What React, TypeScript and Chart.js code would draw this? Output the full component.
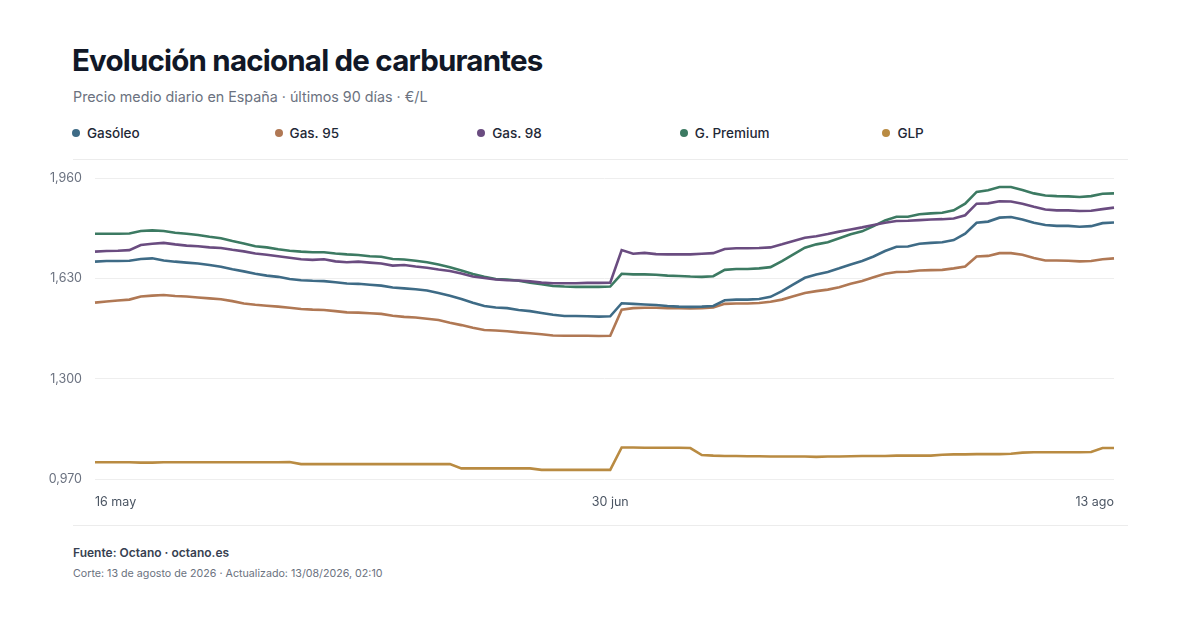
import React, { useEffect, useRef } from "react";
import { Chart, registerables } from "chart.js";

Chart.register(...registerables);

const TITLE = "Evolución nacional de carburantes";
const SUBTITLE = "Precio medio diario en España · últimos 90 días · €/L";
const SOURCE = "Fuente: Octano · octano.es";
const NOTE = "Corte: 13 de agosto de 2026 · Actualizado: 13/08/2026, 02:10";

const DATES = [
  "16 may", "17 may", "18 may", "19 may", "20 may", "21 may", "22 may", "23 may", "24 may", "25 may",
  "26 may", "27 may", "28 may", "29 may", "30 may", "31 may",
  "1 jun", "2 jun", "3 jun", "4 jun", "5 jun", "6 jun", "7 jun", "8 jun", "9 jun", "10 jun",
  "11 jun", "12 jun", "13 jun", "14 jun", "15 jun", "16 jun", "17 jun", "18 jun", "19 jun", "20 jun",
  "21 jun", "22 jun", "23 jun", "24 jun", "25 jun", "26 jun", "27 jun", "28 jun", "29 jun", "30 jun",
  "1 jul", "2 jul", "3 jul", "4 jul", "5 jul", "6 jul", "7 jul", "8 jul", "9 jul", "10 jul",
  "11 jul", "12 jul", "13 jul", "14 jul", "15 jul", "16 jul", "17 jul", "18 jul", "19 jul", "20 jul",
  "21 jul", "22 jul", "23 jul", "24 jul", "25 jul", "26 jul", "27 jul", "28 jul", "29 jul", "30 jul", "31 jul",
  "1 ago", "2 ago", "3 ago", "4 ago", "5 ago", "6 ago", "7 ago", "8 ago", "9 ago", "10 ago",
  "11 ago", "12 ago", "13 ago",
];

const X_TICKS = ["16 may", "30 jun", "13 ago"];
const Y_TICKS = [0.97, 1.3, 1.63, 1.96];

const GASOLEO = [
  1.686, 1.688, 1.688, 1.689, 1.695, 1.697, 1.690, 1.686, 1.683, 1.680,
  1.675, 1.669, 1.661, 1.654, 1.646, 1.640, 1.636, 1.629, 1.625, 1.623,
  1.622, 1.618, 1.614, 1.613, 1.610, 1.607, 1.601, 1.598, 1.595, 1.591,
  1.583, 1.574, 1.563, 1.551, 1.540, 1.535, 1.533, 1.527, 1.523, 1.517,
  1.511, 1.507, 1.507, 1.506, 1.505, 1.506, 1.549, 1.547, 1.545, 1.543,
  1.540, 1.538, 1.537, 1.538, 1.540, 1.559, 1.561, 1.561, 1.563, 1.570,
  1.589, 1.611, 1.633, 1.644, 1.652, 1.664, 1.677, 1.688, 1.703, 1.721,
  1.735, 1.736, 1.745, 1.748, 1.750, 1.757, 1.778, 1.814, 1.818, 1.831,
  1.833, 1.825, 1.814, 1.807, 1.804, 1.804, 1.801, 1.803, 1.813, 1.815,
];

const GAS95 = [
  1.551, 1.555, 1.558, 1.561, 1.571, 1.574, 1.576, 1.573, 1.571, 1.568,
  1.565, 1.562, 1.556, 1.548, 1.544, 1.541, 1.538, 1.534, 1.530, 1.528,
  1.527, 1.523, 1.519, 1.518, 1.516, 1.514, 1.508, 1.504, 1.502, 1.498,
  1.494, 1.485, 1.477, 1.468, 1.461, 1.459, 1.457, 1.453, 1.450, 1.447,
  1.443, 1.442, 1.442, 1.442, 1.441, 1.442, 1.528, 1.533, 1.534, 1.534,
  1.533, 1.533, 1.532, 1.533, 1.535, 1.547, 1.548, 1.548, 1.550, 1.554,
  1.561, 1.572, 1.583, 1.589, 1.594, 1.602, 1.613, 1.622, 1.635, 1.646,
  1.652, 1.653, 1.657, 1.658, 1.659, 1.664, 1.670, 1.703, 1.705, 1.714,
  1.714, 1.709, 1.698, 1.690, 1.690, 1.689, 1.687, 1.688, 1.694, 1.697,
];

const GAS98 = [
  1.719, 1.721, 1.722, 1.724, 1.741, 1.745, 1.748, 1.743, 1.739, 1.737,
  1.733, 1.731, 1.725, 1.720, 1.713, 1.709, 1.704, 1.699, 1.694, 1.692,
  1.694, 1.687, 1.684, 1.686, 1.683, 1.680, 1.673, 1.675, 1.670, 1.666,
  1.660, 1.655, 1.647, 1.637, 1.632, 1.627, 1.625, 1.624, 1.621, 1.617,
  1.615, 1.615, 1.615, 1.616, 1.616, 1.617, 1.724, 1.712, 1.715, 1.711,
  1.710, 1.710, 1.710, 1.712, 1.714, 1.728, 1.730, 1.730, 1.731, 1.733,
  1.743, 1.754, 1.765, 1.770, 1.777, 1.785, 1.792, 1.799, 1.807, 1.814,
  1.820, 1.821, 1.823, 1.825, 1.826, 1.828, 1.839, 1.877, 1.878, 1.885,
  1.884, 1.877, 1.867, 1.858, 1.855, 1.855, 1.853, 1.854, 1.859, 1.864,
];

const PREMIUM = [
  1.778, 1.778, 1.778, 1.779, 1.787, 1.789, 1.787, 1.781, 1.778, 1.774,
  1.768, 1.763, 1.754, 1.746, 1.737, 1.733, 1.727, 1.722, 1.719, 1.717,
  1.717, 1.713, 1.710, 1.708, 1.704, 1.702, 1.695, 1.693, 1.689, 1.684,
  1.677, 1.668, 1.657, 1.645, 1.636, 1.629, 1.627, 1.623, 1.617, 1.612,
  1.606, 1.604, 1.603, 1.603, 1.603, 1.604, 1.646, 1.644, 1.644, 1.643,
  1.640, 1.639, 1.637, 1.636, 1.638, 1.659, 1.662, 1.662, 1.664, 1.668,
  1.688, 1.710, 1.732, 1.743, 1.750, 1.763, 1.776, 1.786, 1.803, 1.822,
  1.834, 1.834, 1.842, 1.845, 1.847, 1.855, 1.877, 1.916, 1.921, 1.932,
  1.932, 1.922, 1.911, 1.904, 1.902, 1.901, 1.899, 1.902, 1.910, 1.911,
];

const GLP = [
  1.025, 1.025, 1.025, 1.025, 1.024, 1.024, 1.025, 1.025, 1.025, 1.025,
  1.025, 1.025, 1.025, 1.025, 1.025, 1.025, 1.025, 1.026, 1.019, 1.019,
  1.019, 1.019, 1.019, 1.019, 1.019, 1.019, 1.019, 1.019, 1.019, 1.019,
  1.019, 1.019, 1.005, 1.005, 1.005, 1.005, 1.005, 1.005, 1.005, 1.000,
  1.000, 1.000, 1.000, 1.000, 1.000, 1.000, 1.074, 1.074, 1.073, 1.073,
  1.073, 1.073, 1.072, 1.049, 1.047, 1.046, 1.046, 1.045, 1.045, 1.044,
  1.044, 1.044, 1.044, 1.043, 1.044, 1.044, 1.045, 1.046, 1.046, 1.046,
  1.047, 1.047, 1.047, 1.047, 1.050, 1.051, 1.051, 1.052, 1.052, 1.052,
  1.053, 1.057, 1.058, 1.058, 1.058, 1.058, 1.058, 1.059, 1.072, 1.072,
];

const SERIES_NAMES = ["Gasóleo", "Gas. 95", "Gas. 98", "G. Premium", "GLP"];
const SERIES_COLORS = ["#3e6b86", "#b07854", "#6a4c80", "#3c7a62", "#b98b42"];
const SERIES_DATA = [GASOLEO, GAS95, GAS98, PREMIUM, GLP];

const FONT = "Inter, 'Noto Sans', sans-serif";

function LineChart() {
  const ref = useRef<HTMLCanvasElement | null>(null);

  useEffect(() => {
    if (!ref.current) return;
    const chart = new Chart(ref.current, {
      type: "line",
      data: {
        labels: DATES,
        datasets: SERIES_DATA.map((d, i) => ({
          label: SERIES_NAMES[i],
          data: d,
          borderColor: SERIES_COLORS[i],
          backgroundColor: SERIES_COLORS[i],
          borderWidth: 2.6,
          pointRadius: 0,
          tension: 0,
          fill: false,
        })),
      },
      options: {
        animation: false,
        responsive: false,
        maintainAspectRatio: false,
        layout: { padding: { top: 4, right: 16, bottom: 1, left: 0 } },
        plugins: {
          legend: { display: false },
          tooltip: { enabled: false },
        },
        scales: {
          x: {
            type: "category",
            offset: false,
            grid: { display: false, drawTicks: false },
            border: { display: false },
            afterBuildTicks: (scale: any) => {
              scale.ticks = scale.ticks.filter((t: any) => X_TICKS.includes(DATES[t.value]));
            },
            afterFit: (scale: any) => {
              scale.height = 30;
            },
            ticks: {
              autoSkip: false,
              maxRotation: 0,
              minRotation: 0,
              align: "inner",
              padding: 16,
              color: "#4b5563",
              font: { family: FONT, size: 12.5 },
              callback: (v: any) => DATES[v as number],
            },
          },
          y: {
            type: "linear",
            min: Y_TICKS[0],
            max: Y_TICKS[Y_TICKS.length - 1],
            grid: { color: "#eeeeee", lineWidth: 1, drawTicks: false },
            border: { display: false },
            afterBuildTicks: (scale: any) => {
              scale.ticks = Y_TICKS.map((v) => ({ value: v }));
            },
            afterFit: (scale: any) => {
              scale.width = 55;
            },
            ticks: {
              padding: 13,
              color: "#6b7280",
              font: { family: FONT, size: 12.5 },
              callback: (v: any) => Number(v).toFixed(3).replace(".", ","),
            },
          },
        },
      },
    });
    return () => chart.destroy();
  }, []);

  return <canvas ref={ref} width={1090} height={352} style={{ width: 1090, height: 352, display: "block" }} />;
}

export default function App() {
  return (
    <div
      style={{
        position: "absolute",
        left: 0,
        top: 0,
        width: 1200,
        height: 630,
        background: "#ffffff",
        fontFamily: FONT,
        overflow: "hidden",
      }}
    >
      <div
        style={{
          position: "absolute",
          left: 72,
          top: 42,
          fontSize: 29.5,
          lineHeight: "36px",
          fontWeight: 700,
          letterSpacing: "-0.8px",
          color: "#111827",
          whiteSpace: "nowrap",
        }}
      >
        {TITLE}
      </div>
      <div
        style={{
          position: "absolute",
          left: 73,
          top: 87,
          fontSize: 14.3,
          lineHeight: "20px",
          color: "#6b7280",
          whiteSpace: "nowrap",
        }}
      >
        {SUBTITLE}
      </div>
      {SERIES_NAMES.map((name, i) => (
        <div
          key={name}
          style={{
            position: "absolute",
            left: 72 + i * 202.6,
            top: 123,
            height: 20,
            display: "flex",
            alignItems: "center",
            fontSize: 13.5,
            fontWeight: 500,
            color: "#1f2937",
            whiteSpace: "nowrap",
          }}
        >
          <span
            style={{
              display: "inline-block",
              width: 8,
              height: 8,
              borderRadius: "50%",
              background: SERIES_COLORS[i],
              marginRight: 7,
            }}
          />
          {name}
        </div>
      ))}
      <div style={{ position: "absolute", left: 73, top: 159, width: 1055, height: 1, background: "#ececec" }} />
      <div style={{ position: "absolute", left: 40, top: 158 }}>
        <LineChart />
      </div>
      <div style={{ position: "absolute", left: 73, top: 525, width: 1055, height: 1, background: "#ececec" }} />
      <div
        style={{
          position: "absolute",
          left: 73,
          top: 544,
          fontSize: 12,
          lineHeight: "18px",
          fontWeight: 600,
          color: "#374151",
          whiteSpace: "nowrap",
        }}
      >
        {SOURCE}
      </div>
      <div
        style={{
          position: "absolute",
          left: 73,
          top: 565,
          fontSize: 10.7,
          lineHeight: "18px",
          color: "#6b7280",
          whiteSpace: "nowrap",
        }}
      >
        {NOTE}
      </div>
    </div>
  );
}
